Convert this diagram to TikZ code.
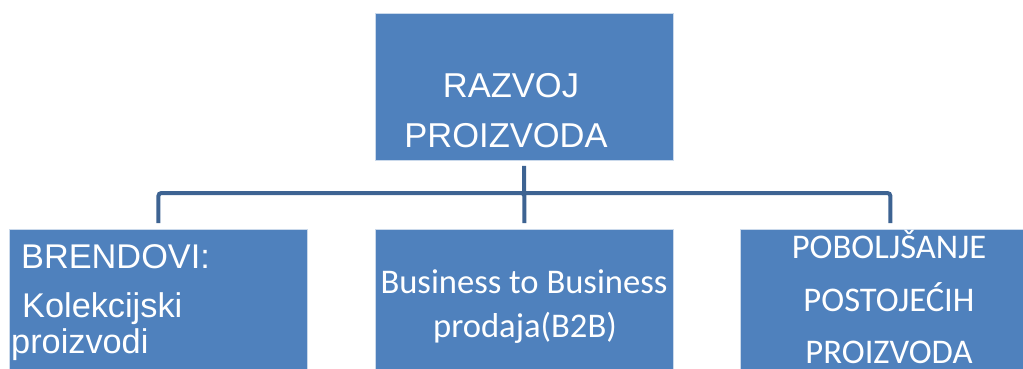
\documentclass[tikz,border=0pt]{standalone}
\usepackage{fontspec}
\setmainfont{Liberation Sans}
\newfontfamily\calibrifont{Carlito}
\definecolor{boxblue}{RGB}{79,129,189}
\definecolor{lineblue}{RGB}{61,99,146}

\begin{document}
\begin{tikzpicture}[x=1pt,y=-1pt,
    box/.style={draw=boxblue!30, line width=0.8pt, fill=boxblue, minimum width=298pt, minimum height=150pt, inner sep=0pt, anchor=north west},
    link/.style={draw=lineblue, line width=4pt, rounded corners=3pt},
    lbl/.style={text=white, inner sep=0pt, anchor=base west, font=\fontsize{34.3}{40}\selectfont},
    clbl/.style={text=white, inner sep=0pt, anchor=base, font=\calibrifont\fontsize{34.6}{41}\selectfont}]
	\useasboundingbox (0,0) rectangle (1023,369);
	\clip (0,0) rectangle (1023,369);
	
	% Boxes
	\node[box, minimum height=147pt] (razvoj) at (375,13) {};
	\node[box] (brendovi) at (9,229) {};
	\node[box] (btob) at (375,229) {};
	\node[box, minimum width=300pt] (poboljsanje) at (740,229) {};
	
	% Lines
	\coordinate (bus) at (524,193);
	\draw[link, shorten <=5pt] (razvoj) -- (bus);
	\draw[link, shorten >=6pt] (bus) -| (brendovi);
	\draw[link, shorten >=6pt] (bus) -| (btob);
	\draw[link, shorten >=6pt] (bus) -| (poboljsanje);
	
	% Texts
	\node[lbl, anchor=base, font=\fontsize{34.5}{42}\selectfont] at (511,97) {RAZVOJ};
	\node[lbl, anchor=base, font=\fontsize{34.5}{42}\selectfont] at (506,147) {PROIZVODA};
	
	\node[lbl] at (21,268) {BRENDOVI:};
	\node[lbl] at (22,317) {Kolekcijski};
	\node[lbl] at (11,353) {proizvodi};
	
	\node[clbl] at (524,293) {Business to Business};
	\node[clbl] at (525,337) {prodaja(B2B)};
	
	\node[clbl] at (889,258) {POBOLJŠANJE};
	\node[clbl] at (889,311) {POSTOJEĆIH};
	\node[clbl] at (889,363) {PROIZVODA};
\end{tikzpicture}
\end{document}
